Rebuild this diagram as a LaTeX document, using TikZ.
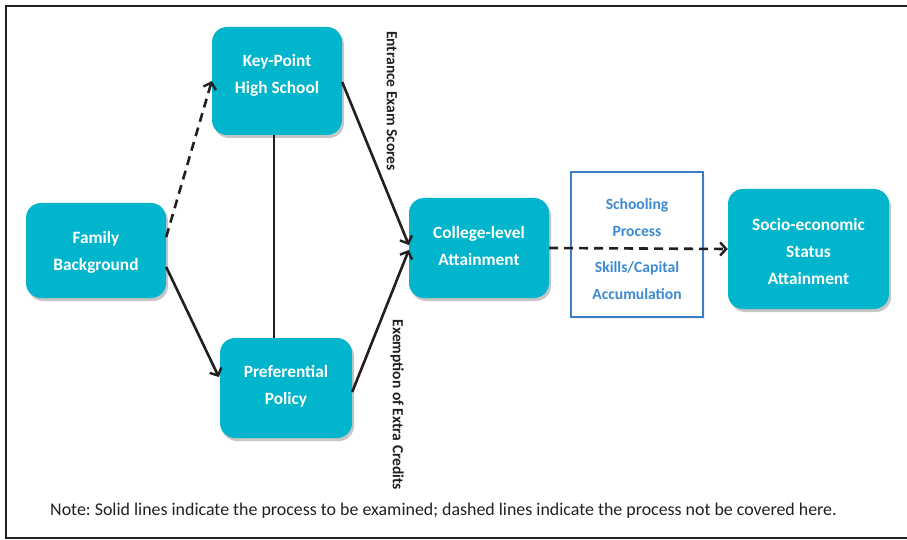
\documentclass[tikz,border=0pt]{standalone}
\usepackage{fontspec}
\setmainfont{Carlito}
\frenchspacing
\usetikzlibrary{arrows.meta,calc,shadows}
\definecolor{boxteal}{HTML}{00B5CC}
\definecolor{procblue}{HTML}{3B7DC8}
\definecolor{proctext}{HTML}{3C8AD4}
\definecolor{ink}{HTML}{231F20}
\begin{document}
\begin{tikzpicture}[x=1pt,y=-1pt,
  stagebox/.style={fill=boxteal, draw=none, rounded corners=15pt, inner sep=0pt,
    drop shadow={shadow xshift=2pt, shadow yshift=-3pt, fill=black!50, opacity=0.45}},
  stagetext/.style={text=white, font=\bfseries\fontsize{17.3}{27}\selectfont, align=center, inner sep=0pt},
  proctxt/.style={text=proctext, font=\bfseries\fontsize{15.6}{27}\selectfont, align=center, inner sep=0pt},
  sidelabel/.style={text=ink, font=\bfseries\fontsize{15.5}{18}\selectfont, rotate=-90, inner sep=0pt},
  link/.style={draw=ink, line width=2.6pt, -{Straight Barb[length=6pt,width=13pt,line width=2.4pt]}},
  pending/.style={link, dash pattern=on 9pt off 6pt},
  tie/.style={draw=ink, line width=2.6pt}
]
\useasboundingbox (0,0) rectangle (907,540);
% open frame: left, top and bottom rules
\draw[ink, line width=2.4pt] (907,6) -- (6,6) -- (6,538) -- (907,538);

% stage boxes
\node[stagebox, minimum width=130pt, minimum height=108pt] (kp)  at (277,81)   {};
\node[stagebox, minimum width=140pt, minimum height=95pt]  (fam) at (96,250.5) {};
\node[stagebox, minimum width=132pt, minimum height=100pt] (pp)  at (286,388)  {};
\node[stagebox, minimum width=140pt, minimum height=100pt] (col) at (479,248)  {};
\node[stagebox, minimum width=161pt, minimum height=120pt] (ses) at (808.5,249){};

\node[stagetext] (kptxt)  at (277,75.5) {Key-Point\\High School};
\node[stagetext] (famtxt) at (96,252)   {Family\\Background};
\node[stagetext] (pptxt)  at (286,386)  {Preferential\\Policy};
\node[stagetext] (coltxt) at (479,246)  {College-level\\Attainment};
\node[stagetext] (sestxt) at (808.5,251.5) {Socio-economic\\Status\\Attainment};

% schooling process frame
\node[draw=procblue, line width=2pt, fill=white, minimum width=132pt, minimum height=145pt,
      inner sep=0pt, drop shadow={shadow xshift=2pt, shadow yshift=-2pt, fill=black!20, opacity=0.3}]
      (proc) at (637,244.5) {};
\node[proctxt] (proctop) at (637,217.5) {Schooling\\Process};
\node[proctxt] (procbot) at (637,281)   {Skills/Capital\\Accumulation};

% connectors
\draw[pending] ($(fam.east)+(0,-13.5)$) -- (kp.west);
\draw[link] ($(fam.east)+(0,16.5)$) -- ($(pp.west)+(-1,-11)$);
\draw[tie] ($(kp.south)+(-3,0)$) -- ($(pp.north)+(-12,0)$);
\draw[link] ($(kp.east)+(0,1)$) -- ($(col.west)+(0,-3)$);
\draw[link] ($(pp.east)+(0,4)$) -- ($(col.west)+(0,2)$);
\draw[pending] (col.east) -- (ses.west);

% path labels
\node[sidelabel] (entr) at (392,101) {Entrance Exam Scores};
\node[sidelabel] (exem) at (397,405) {Exemption of Extra Credits};

% note
\node[text=ink, font=\fontsize{17.9}{20}\selectfont, inner sep=0pt] (note) at (443.5,511)
  {Note: Solid lines indicate the process to be examined; dashed lines indicate the process not be covered here.};
\end{tikzpicture}
\end{document}
